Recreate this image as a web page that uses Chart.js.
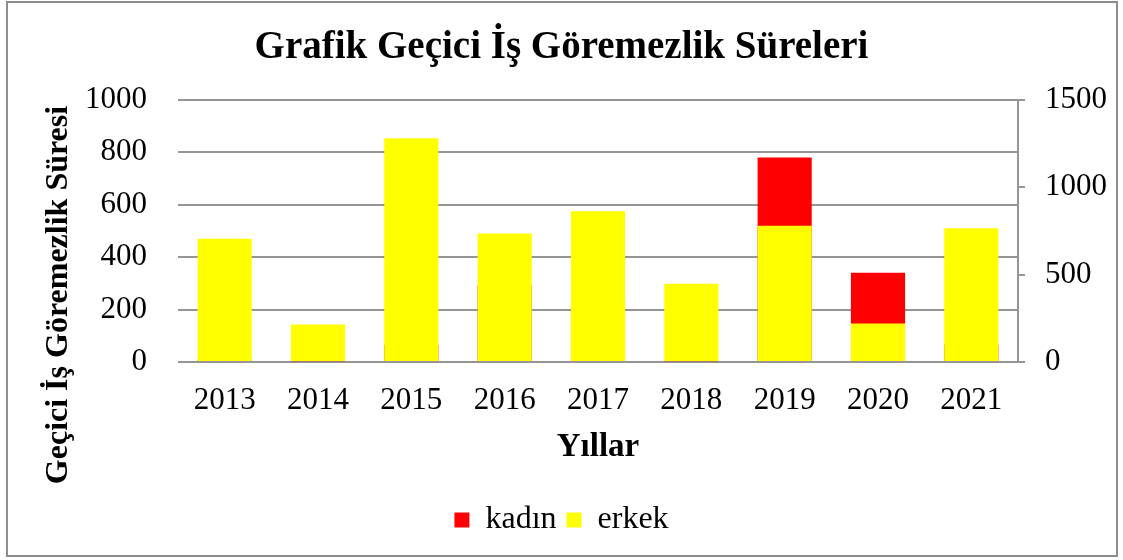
<!DOCTYPE html>
<html>
<head>
<meta charset="utf-8">
<script src="https://cdn.jsdelivr.net/npm/chart.js@4.4.1/dist/chart.umd.min.js"></script>
<style>
  body { margin: 0; background: #fff; }
  #wrap { position: relative; width: 1123px; height: 560px; }
  #frame { position: absolute; left: 6px; top: 1px; width: 1108px; height: 552px; border: 2px solid #8c8c8c; pointer-events: none; }
</style>
</head>
<body>
<div id="wrap">
  <canvas id="gecici" width="1123" height="560"></canvas>
  <div id="frame"></div>
</div>
<script>
const years = ['2013', '2014', '2015', '2016', '2017', '2018', '2019', '2020', '2021'];
const kadinValues = [15, 5, 98, 440, 336, 5, 1170, 510, 100]; // sag eksen (0-1500)
const erkekValues = [470, 143, 853, 490, 575, 298, 520, 147, 510]; // sol eksen (0-1000)
const leftTicks = [0, 200, 400, 600, 800, 1000];
const rightTicks = [0, 500, 1000, 1500];

const serif = '"Liberation Serif", "Times New Roman", serif';

// dikey eksen basligi, Excel'deki gibi grafigin ortasina gore yerlestiriliyor
const yTitlePlugin = {
    id: 'yTitle',
    afterDraw(chart) {
        const ctx = chart.ctx;
        ctx.save();
        ctx.translate(59, 295);
        ctx.rotate(-Math.PI / 2);
        ctx.font = 'bold 32px ' + serif;
        ctx.fillStyle = '#000';
        ctx.textAlign = 'center';
        ctx.textBaseline = 'middle';
        ctx.fillText('Geçici İş Göremezlik Süresi', 0, 0);
        ctx.restore();
    }
};

const ctx = document.getElementById('gecici').getContext('2d');

new Chart(ctx, {
    type: 'bar',
    data: {
        labels: years,
        datasets: [{
            label: 'kadın',
            data: kadinValues,
            backgroundColor: '#ff0000',
            yAxisID: 'y2',
            grouped: false,
            order: 1,
            barPercentage: 0.58,
            categoryPercentage: 1
        }, {
            label: 'erkek',
            data: erkekValues,
            backgroundColor: '#ffff00',
            yAxisID: 'y',
            grouped: false,
            order: 0,
            barPercentage: 0.58,
            categoryPercentage: 1
        }]
    },
    options: {
        responsive: false,
        animation: false,
        layout: { padding: { left: 0, right: 0, top: 0, bottom: 14 } },
        plugins: {
            title: {
                display: true,
                text: 'Grafik Geçici İş Göremezlik Süreleri',
                color: '#000',
                font: { family: serif, size: 39, weight: 'bold' },
                padding: { top: 25, bottom: 28 }
            },
            legend: {
                position: 'bottom',
                labels: {
                    color: '#000',
                    font: { family: serif, size: 32 },
                    boxWidth: 15,
                    boxHeight: 15,
                    padding: 10,
                    sort: (a, b) => a.datasetIndex - b.datasetIndex
                }
            },
            tooltip: { enabled: false }
        },
        scales: {
            x: {
                grid: { display: false, drawTicks: false },
                border: { display: false },
                ticks: { color: '#000', font: { family: serif, size: 31 }, padding: 20, maxRotation: 0, autoSkip: false },
                title: {
                    display: true,
                    text: 'Yıllar',
                    color: '#000',
                    font: { family: serif, size: 33, weight: 'bold' },
                    padding: { top: 0, bottom: 27 }
                },
                afterFit: (scale) => { scale.height = 132; }
            },
            y: {
                position: 'left',
                min: 0,
                max: 1000,
                afterBuildTicks: (scale) => { scale.ticks = leftTicks.map(v => ({ value: v })); },
                grid: { color: '#959595', lineWidth: 2, drawTicks: false },
                border: { display: false },
                ticks: { color: '#000', font: { family: serif, size: 31 }, padding: 31, callback: (v) => String(v) },
                afterFit: (scale) => { scale.width = 178; }
            },
            y2: {
                position: 'right',
                min: 0,
                max: 1500,
                afterBuildTicks: (scale) => { scale.ticks = rightTicks.map(v => ({ value: v })); },
                grid: { drawOnChartArea: false, color: '#959595', lineWidth: 2, tickLength: 7 },
                border: { display: true, color: '#959595', width: 2 },
                ticks: { color: '#000', font: { family: serif, size: 31 }, padding: 20, callback: (v) => String(v) },
                afterFit: (scale) => { scale.width = 105; }
            }
        }
    },
    plugins: [yTitlePlugin]
});
</script>
</body>
</html>
